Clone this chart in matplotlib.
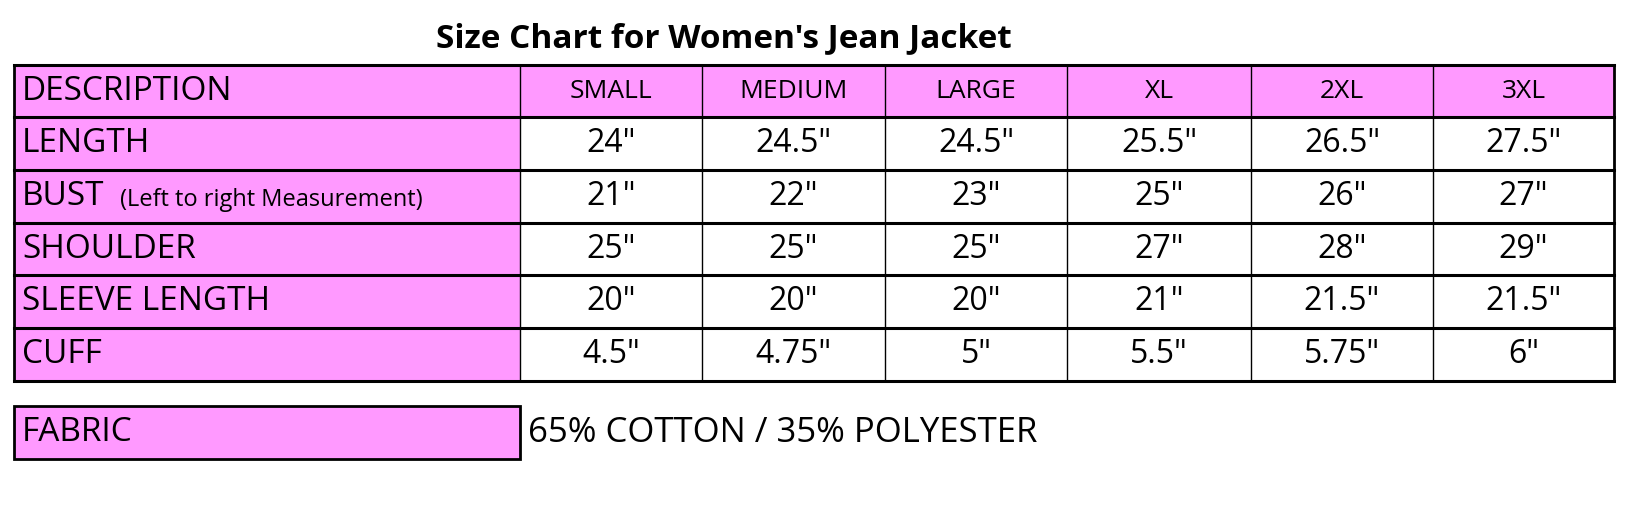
import matplotlib
matplotlib.use("Agg")
import matplotlib.pyplot as plt
from matplotlib.patches import Rectangle

title = "Size Chart for Women's Jean Jacket"
sizes = ["SMALL", "MEDIUM", "LARGE", "XL", "2XL", "3XL"]
row_labels = ["LENGTH", "BUST", "SHOULDER", "SLEEVE LENGTH", "CUFF"]
length = ['24"', '24.5"', '24.5"', '25.5"', '26.5"', '27.5"']
bust = ['21"', '22"', '23"', '25"', '26"', '27"']
shoulder = ['25"', '25"', '25"', '27"', '28"', '29"']
sleeve = ['20"', '20"', '20"', '21"', '21.5"', '21.5"']
cuff = ['4.5"', '4.75"', '5"', '5.5"', '5.75"', '6"']
values = [length, bust, shoulder, sleeve, cuff]
fabric = "65% COTTON / 35% POLYESTER"

PINK = "#FF99FF"
W, H = 1640, 512
fig = plt.figure(figsize=(W/100, H/100), dpi=100)
ax = fig.add_axes([0, 0, 1, 1])
ax.set_xlim(0, W); ax.set_ylim(H, 0); ax.axis("off")
FONT = "Open Sans"

xs = [14, 520, 702, 885, 1067, 1251, 1433, 1614]
ys = [65, 117, 170, 223, 275, 328, 381]

for r in range(6):
    ax.add_patch(Rectangle((xs[0], ys[r]), xs[1]-xs[0], ys[r+1]-ys[r], color=PINK, lw=0))
for c in range(6):
    ax.add_patch(Rectangle((xs[c+1], ys[0]), xs[c+2]-xs[c+1], ys[1]-ys[0], color=PINK, lw=0))

for y in ys:
    ax.plot([xs[0], xs[-1]], [y, y], color="black", lw=2.2)
for i, x in enumerate(xs):
    ax.plot([x, x], [ys[0], ys[-1]], color="black", lw=2 if i in (0, len(xs)-1) else 1)

ax.text(724, 39, title, ha="center", va="center", fontsize=24, fontweight="bold", family=FONT)
ax.text(xs[0]+8, (ys[0]+ys[1])/2, "DESCRIPTION", ha="left", va="center", fontsize=24, family=FONT)
for c, s in enumerate(sizes):
    ax.text((xs[c+1]+xs[c+2])/2, (ys[0]+ys[1])/2, s, ha="center", va="center", fontsize=19, family=FONT)
for r, lab in enumerate(row_labels):
    yc = (ys[r+1]+ys[r+2])/2
    ax.text(xs[0]+8, yc, lab, ha="left", va="center", fontsize=24, family=FONT)
    if lab == "BUST":
        ax.text(xs[0]+106, yc+3, "(Left to right Measurement)", ha="left", va="center", fontsize=17, family=FONT)
    for c, v in enumerate(values[r]):
        ax.text((xs[c+1]+xs[c+2])/2, yc, v, ha="center", va="center", fontsize=23, family=FONT)

fy0, fy1 = 406, 459
ax.add_patch(Rectangle((xs[0], fy0), xs[1]-xs[0], fy1-fy0, facecolor=PINK, edgecolor="black", lw=2))
ax.text(xs[0]+8, (fy0+fy1)/2, "FABRIC", ha="left", va="center", fontsize=24, family=FONT)
ax.text(528, (fy0+fy1)/2, fabric, ha="left", va="center", fontsize=25, family=FONT)

fig.savefig("out.png", dpi=100, facecolor="white")
